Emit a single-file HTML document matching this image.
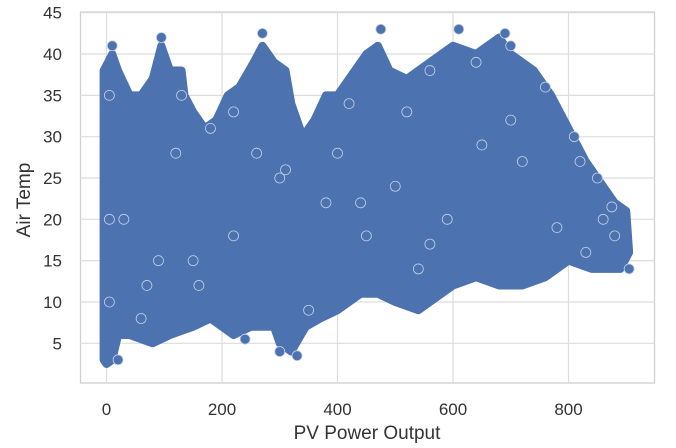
<!DOCTYPE html>
<html><head><meta charset="utf-8"><style>
body{margin:0;background:#fff;}
svg{display:block;font-family:"Liberation Sans",sans-serif;}
</style></head><body>
<svg id="chart" width="676" height="448" viewBox="0 0 676 448"></svg>
<script>
const xTicks=[0,200,400,600,800];
const yTicks=[5,10,15,20,25,30,35,40,45];
const upperPower=[-5,10,20,40,60,80,95,110,130,135,150,170,190,210,230,255,270,290,310,320,340,360,380,400,420,450,470,490,520,560,600,640,680,700,740,770,800,830,860,880,900,905];
const upperTemp=[38,40,38,35,35,37,41,38,38,35,33,31,32,35,36,39,41,39,38,34,30,32,35,35,37,40,41,38,37,39,41,40,42,40,38,35,31,27,24,22,21,16];
const lowerPower=[890,870,840,800,760,720,680,640,600,560,540,500,470,440,400,370,345,320,300,290,250,220,180,150,110,80,40,20,10,0,-5];
const lowerTemp=[14,14,14,15,13,12,12,13,12,10,9,10,11,11,9,8,7,4,5,7,7,6,8,7,6,5,6,6,3,2.5,3];
const ptPower=[10,95,270,300,475,610,690,875,905,880,240,330,20,60,130,180,220,350,420,520,560,640,700,760,810,850,30,90,160,260,310,380,450,500,590,650,720,780,830,5,5,5,300,150,400,560,860,820,700,540,440,220,120,70];
const ptTemp=[41,42,42.5,4,43,43,42.5,21.5,14,18,5.5,3.5,3,8,35,31,33,9,34,33,38,39,41,36,30,25,20,15,12,28,26,22,18,24,20,29,27,19,16,35,20,10,25,15,28,17,20,27,32,14,22,18,28,12];

const X0=106.5,XK=115.5/200,Y5=343.3,YK=8.265;
const xs=v=>X0+v*XK, ys=v=>Y5-(v-5)*YK;
const svg=document.getElementById('chart');
const NS='http://www.w3.org/2000/svg';
function mk(t,a){const e=document.createElementNS(NS,t);for(const k in a)e.setAttribute(k,a[k]);svg.appendChild(e);return e;}

let fr=mk('rect',{x:80.5,y:12,width:574,height:371,fill:'#fff',stroke:'#d0d0d0','stroke-width':1.3});


xTicks.forEach(v=>{
 let g=mk('line',{x1:xs(v),x2:xs(v),y1:12,y2:383,stroke:'#dddddd','stroke-width':1.2});
 
 
 let t=mk('text',{x:xs(v),y:415,'text-anchor':'middle','font-size':17,fill:'#333'});t.textContent=v;
 
 
});
yTicks.forEach(v=>{
 let g=mk('line',{x1:80.5,x2:654.5,y1:ys(v),y2:ys(v),stroke:'#dddddd','stroke-width':1.2});
 
 
 let t=mk('text',{x:62,y:ys(v)+6,'text-anchor':'end','font-size':17,fill:'#333'});t.textContent=v;
 
 
});
let pts=upperPower.map((p,i)=>xs(p)+','+ys(upperTemp[i])).concat(lowerPower.map((p,i)=>xs(p)+','+ys(lowerTemp[i])));
let area=mk('polygon',{points:pts.join(' '),fill:'#4c72b0',stroke:'#4c72b0','stroke-width':8,'stroke-linejoin':'round'});


ptPower.forEach((p,i)=>{
 let c=mk('circle',{cx:xs(p),cy:ys(ptTemp[i]),r:5,fill:'#4c72b0',stroke:'#c5d0e6','stroke-width':0.8});
 
 
});
let xt=mk('text',{x:367,y:439,'text-anchor':'middle','font-size':19,fill:'#333'});xt.textContent='PV Power Output';


let yt=mk('text',{x:0,y:0,'text-anchor':'middle','font-size':19,fill:'#333',transform:'translate(30,200) rotate(-90)'});yt.textContent='Air Temp';


</script>
</body></html>
